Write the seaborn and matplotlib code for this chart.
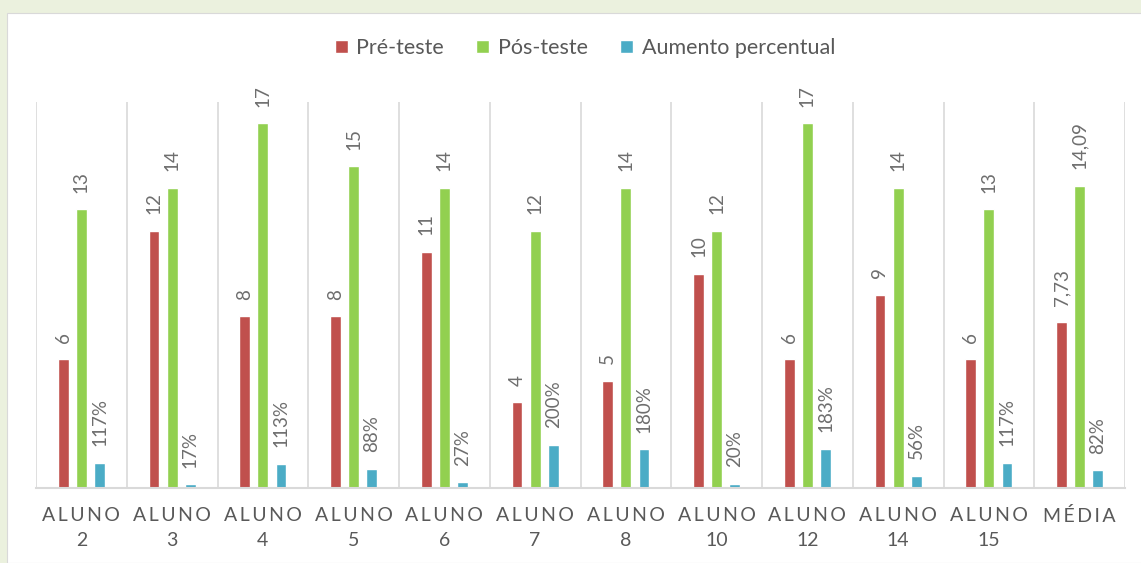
import matplotlib.pyplot as plt
import matplotlib.patches as mpatches
import pandas as pd
import seaborn as sns


# =========================================================
# DATA
# =========================================================

sp = "\u2009"
categories = [
    f"{sp.join('ALUNO')}\n{n}" for n in ["2", "3", "4", "5", "6", "7", "8",
                                        "10", "12", "14", "15"]
] + [sp.join("MÉDIA")]
pre_teste = [6, 12, 8, 8, 11, 4, 5, 10, 6, 9, 6, 7.73]
pos_teste = [13, 14, 17, 15, 14, 12, 14, 12, 17, 14, 13, 14.09]
aumento_pct = [117, 17, 113, 88, 27, 200, 180, 20, 183, 56, 117, 82]

series_names = ["Pré-teste", "Pós-teste", "Aumento percentual"]
colors = ["#C0504D", "#92D050", "#4BACC6"]
text_color = "#595959"


# =========================================================
# TABLE
# =========================================================

df = pd.DataFrame({
    "categoria": categories * 3,
    "serie": (
        [series_names[0]] * len(categories)
        + [series_names[1]] * len(categories)
        + [series_names[2]] * len(categories)
    ),
    "valor": pre_teste + pos_teste + [v / 100 for v in aumento_pct],
})


def _fmt(v):
    if float(v).is_integer():
        return f"{int(v)}"
    return f"{v:.2f}".replace(".", ",")


# =========================================================
# PLOT
# =========================================================

sns.set_theme(style="white")
plt.rcParams["font.family"] = ["Lato", "DejaVu Sans"]

fig = plt.figure(figsize=(11.41, 5.63), dpi=100)
fig.patch.set_facecolor("#EBF1DE")
fig.add_artist(
    mpatches.Rectangle(
        (7 / 1141, 0), 1, (563 - 13) / 563,
        transform=fig.transFigure,
        facecolor="white",
        edgecolor="#D9D9D9",
        linewidth=0.8,
        zorder=-10,
    )
)

ax = fig.add_axes([36 / 1141, 75 / 563, 1089 / 1141, 386 / 563])
ax.set_facecolor("none")

sns.barplot(
    data=df,
    x="categoria",
    y="valor",
    hue="serie",
    hue_order=series_names,
    palette=colors,
    width=0.6,
    gap=0.4,
    ax=ax,
    legend=False,
    saturation=1,
)

ax.set_ylim(0, 18)
ax.set_xlim(-0.5, len(categories) - 0.5)

for i in range(len(categories) + 1):
    ax.axvline(i - 0.5, color="#D9D9D9", linewidth=1.2, zorder=0)

labels_per_series = [
    [_fmt(v) for v in pre_teste],
    [_fmt(v) for v in pos_teste],
    [f"{v}%" for v in aumento_pct],
]
for container, labels in zip(ax.containers, labels_per_series):
    ax.bar_label(
        container,
        labels=labels,
        rotation=90,
        padding=12,
        fontsize=13.5,
        color="#6E6E6E",
    )

ax.set_xlabel("")
ax.set_ylabel("")
ax.set_yticks([])
for side in ["top", "left", "right"]:
    ax.spines[side].set_visible(False)
ax.spines["bottom"].set_color("#D9D9D9")
ax.spines["bottom"].set_linewidth(1.5)

ax.tick_params(axis="x", length=0, pad=14, labelsize=14, labelcolor=text_color)
for lbl in ax.get_xticklabels():
    lbl.set_linespacing(1.55)
    lbl.set_verticalalignment("top")

handles = [
    mpatches.Patch(facecolor=c, label=n) for c, n in zip(colors, series_names)
]
fig.legend(
    handles=handles,
    loc="center",
    bbox_to_anchor=(585 / 1141, 1 - 48 / 563),
    ncol=3,
    frameon=False,
    fontsize=15.5,
    handlelength=0.6,
    handleheight=0.6,
    handletextpad=0.4,
    columnspacing=1.5,
    labelcolor=text_color,
)

plt.savefig("out.png", dpi=100, facecolor=fig.get_facecolor())
